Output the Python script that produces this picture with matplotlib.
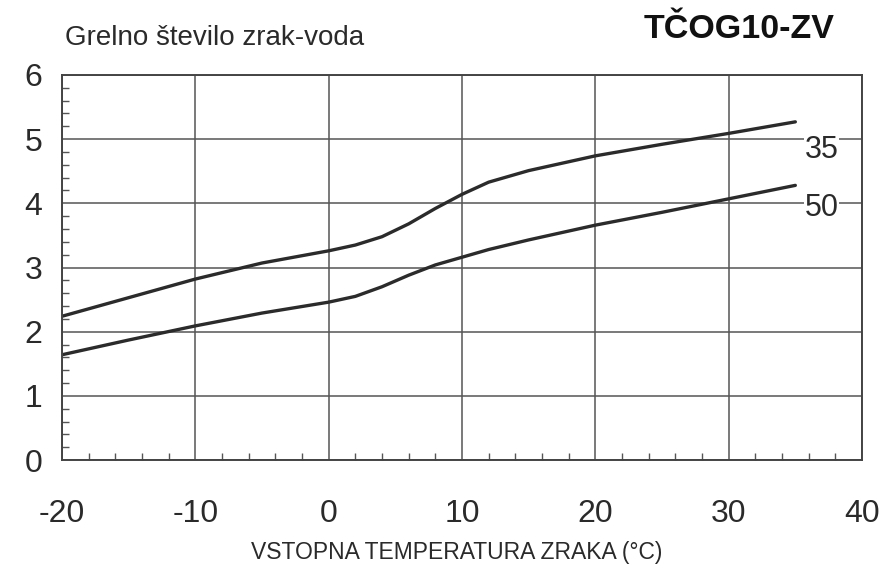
import matplotlib
matplotlib.use("Agg")
import matplotlib.pyplot as plt
from matplotlib.ticker import MultipleLocator

plt.rcParams['font.family'] = ['Liberation Sans', 'DejaVu Sans']
plt.rcParams['axes.unicode_minus'] = False

# Data
temp = [-20, -15, -10, -5, 0, 2, 4, 6, 8, 10, 12, 15, 20, 25, 30, 35]
cop_35 = [2.24, 2.53, 2.82, 3.07, 3.26, 3.35, 3.48, 3.68, 3.92, 4.14, 4.33, 4.51, 4.74, 4.92, 5.09, 5.27]
cop_50 = [1.64, 1.87, 2.09, 2.29, 2.46, 2.55, 2.70, 2.88, 3.04, 3.16, 3.28, 3.43, 3.66, 3.86, 4.07, 4.28]
series_labels = ["35", "50"]
x_ticks = [-20, -10, 0, 10, 20, 30, 40]
y_ticks = [0, 1, 2, 3, 4, 5, 6]
title_left = "Grelno število zrak-voda"
title_right = "TČOG10-ZV"
x_label = "VSTOPNA TEMPERATURA ZRAKA (°C)"

fig = plt.figure(figsize=(8.87, 5.74), dpi=100)
ax = fig.add_axes([62/887, 1-460/574, 800/887, 385/574])

line_col = "#2b2b2b"
grid_col = "#555555"
txt_col = "#2a2a2a"

ax.plot(temp, cop_35, color=line_col, lw=2.4, solid_capstyle='round')
ax.plot(temp, cop_50, color=line_col, lw=2.4, solid_capstyle='round')

ax.set_xlim(-20, 40)
ax.set_ylim(0, 6)
ax.set_xticks(x_ticks)
ax.set_yticks(y_ticks)
ax.xaxis.set_minor_locator(MultipleLocator(2))
ax.yaxis.set_minor_locator(MultipleLocator(0.2))
ax.grid(True, which='major', color=grid_col, lw=1.1)
ax.tick_params(which='major', length=0, labelsize=23, labelcolor=txt_col)
ax.tick_params(axis='x', which='major', pad=28)
ax.tick_params(axis='y', which='major', pad=14)
ax.tick_params(which='minor', direction='in', length=5, width=1.0, color=grid_col)
for s in ax.spines.values():
    s.set_color("#444444")
    s.set_linewidth(1.4)

box = dict(facecolor='white', edgecolor='none', pad=0.5)
ax.text(35.7, cop_35[-1] - 0.44, series_labels[0], fontsize=22, color=txt_col,
        ha='left', va='center', bbox=box)
ax.text(35.7, cop_50[-1] - 0.36, series_labels[1], fontsize=22, color=txt_col,
        ha='left', va='center', bbox=box)

fig.text(65/887, 1-38/574, title_left, fontsize=20, color=txt_col, ha='left', va='center')
fig.text(835/887, 1-30/574, title_right, fontsize=24.5, fontweight='bold', color="#111111",
         ha='right', va='center')
fig.text(457/887, 1-553/574, x_label, fontsize=16.5, color=txt_col, ha='center', va='center')

fig.savefig("out.png", dpi=100, facecolor='white')
